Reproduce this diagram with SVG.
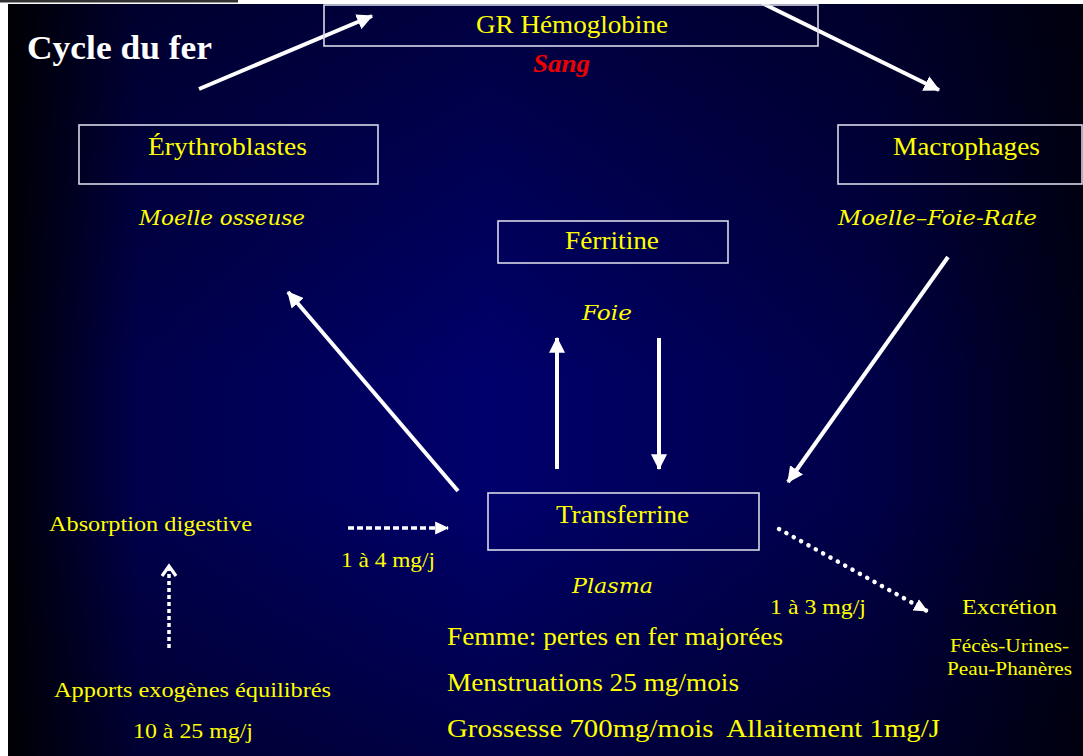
<svg xmlns="http://www.w3.org/2000/svg" width="1083" height="756" viewBox="0 0 1083 756">
<style>
.t{font-family:"Liberation Serif","Times New Roman",serif;fill:#ffff00;font-size:24.5px}
.s{font-size:22px}
.xs{font-size:19.5px}
.b{font-size:25px}
.i{font-family:"DejaVu Serif","Liberation Serif",serif;font-style:italic;fill:#ffff00;font-size:21px}
.box{fill:none;stroke:#d8d8e8;stroke-width:1.6}
.ar{stroke:#ffffff;stroke-width:4;fill:none}
.dot{stroke:#ffffff;fill:none}
</style>
<defs>
<linearGradient id="gh" x1="0" y1="0" x2="1" y2="0">
<stop offset="0" stop-color="#000006"/>
<stop offset="0.12" stop-color="#00004c"/>
<stop offset="0.45" stop-color="#00006c"/>
<stop offset="0.8" stop-color="#000048"/>
<stop offset="1" stop-color="#000016"/>
</linearGradient>
<linearGradient id="gv" x1="0" y1="0" x2="0" y2="1">
<stop offset="0" stop-color="#000000" stop-opacity="0.4"/>
<stop offset="0.5" stop-color="#000000" stop-opacity="0"/>
<stop offset="0.65" stop-color="#000000" stop-opacity="0"/>
<stop offset="1" stop-color="#000000" stop-opacity="0.35"/>
</linearGradient>
<marker id="ah" markerUnits="userSpaceOnUse" markerWidth="16" markerHeight="16" viewBox="0 0 14 14" refX="13" refY="7" orient="auto">
<path d="M0,0 L14,7 L0,14 z" fill="#ffffff"/>
</marker>
<marker id="ahs" markerUnits="userSpaceOnUse" markerWidth="14" markerHeight="14" viewBox="0 0 12 12" refX="11" refY="6" orient="auto">
<path d="M0,0.5 L12,6 L0,11.5 z" fill="#ffffff"/>
</marker>
<marker id="aho" markerUnits="userSpaceOnUse" markerWidth="16" markerHeight="18" viewBox="0 0 14 18" refX="12" refY="9" orient="auto">
<path d="M2,2 L12,9 L2,16" fill="none" stroke="#ffffff" stroke-width="3.2"/>
</marker>
</defs>
<rect x="0" y="0" width="1083" height="756" fill="#ffffff"/>
<rect x="8" y="4" width="1075" height="752" fill="url(#gh)"/>
<rect x="8" y="4" width="1075" height="752" fill="url(#gv)"/>
<rect x="0" y="0" width="238" height="2.5" fill="#333333"/>

<g id="title">
<circle cx="13.5" cy="50" r="2.6" fill="#000000"/>
<text x="27" y="59" font-family="Liberation Serif,serif" font-weight="bold" font-size="34" fill="#ffffff" textLength="185" lengthAdjust="spacingAndGlyphs">Cycle du fer</text>
</g>

<g id="connectors">
<line class="ar" x1="199" y1="89" x2="372" y2="16" marker-end="url(#ah)"/>
<line class="ar" x1="762" y1="3" x2="939" y2="90" marker-end="url(#ah)"/>
<line class="ar" x1="458" y1="491" x2="288" y2="292" marker-end="url(#ah)"/>
<line class="ar" x1="557" y1="469" x2="557" y2="338" marker-end="url(#ah)"/>
<line class="ar" x1="659" y1="338" x2="659" y2="469" marker-end="url(#ah)"/>
<line class="ar" x1="948" y1="257" x2="788" y2="482" marker-end="url(#ah)"/>
<line class="dot" x1="348" y1="528" x2="448" y2="528" stroke-width="3.5" stroke-dasharray="6 3" marker-end="url(#ahs)"/>
<line class="dot" x1="169" y1="648" x2="169" y2="566" stroke-width="3.5" stroke-dasharray="4 3" marker-end="url(#aho)"/>
<line class="dot" x1="779" y1="529" x2="927" y2="611" stroke-width="4.5" stroke-linecap="round" stroke-dasharray="0.1 8.3" marker-end="url(#ahs)"/>
</g>

<g id="gr">
<rect class="box" x="324" y="5" width="494" height="41"/>
<text class="t" x="476" y="33" textLength="192" lengthAdjust="spacingAndGlyphs">GR Hémoglobine</text>
<text x="533" y="72" font-family="Liberation Serif,serif" font-style="italic" font-weight="bold" font-size="25" fill="#ee0000" textLength="57" lengthAdjust="spacingAndGlyphs">Sang</text>
</g>

<g id="erythroblastes">
<rect class="box" x="79" y="125" width="299" height="59"/>
<text class="t" x="148" y="155" textLength="159" lengthAdjust="spacingAndGlyphs">Érythroblastes</text>
<text class="i" x="139" y="225" textLength="166" lengthAdjust="spacingAndGlyphs">Moelle osseuse</text>
</g>

<g id="macrophages">
<rect class="box" x="838" y="125" width="244" height="59"/>
<text class="t" x="893" y="155" textLength="147" lengthAdjust="spacingAndGlyphs">Macrophages</text>
<text class="i" x="838" y="225" textLength="199" lengthAdjust="spacingAndGlyphs">Moelle–Foie-Rate</text>
</g>

<g id="ferritine">
<rect class="box" x="498" y="221" width="230" height="42"/>
<text class="t" x="565" y="249" textLength="94" lengthAdjust="spacingAndGlyphs">Férritine</text>
<text class="i" x="582" y="320" textLength="50" lengthAdjust="spacingAndGlyphs">Foie</text>
</g>

<g id="transferrine">
<rect class="box" x="488" y="493" width="271" height="57"/>
<text class="t" x="556" y="523" textLength="133" lengthAdjust="spacingAndGlyphs">Transferrine</text>
<text class="i" x="572" y="593" textLength="81" lengthAdjust="spacingAndGlyphs">Plasma</text>
</g>

<g id="absorption">
<text class="t s" x="49" y="531" textLength="203" lengthAdjust="spacingAndGlyphs">Absorption digestive</text>
<text class="t s" x="341" y="567" textLength="94" lengthAdjust="spacingAndGlyphs">1 à 4 mg/j</text>
</g>

<g id="apports">
<text class="t s" x="54" y="697" textLength="277" lengthAdjust="spacingAndGlyphs">Apports exogènes équilibrés</text>
<text class="t s" x="133" y="738" textLength="120" lengthAdjust="spacingAndGlyphs">10 à 25 mg/j</text>
</g>

<g id="excretion">
<text class="t s" x="770" y="614" textLength="96" lengthAdjust="spacingAndGlyphs">1 à 3 mg/j</text>
<text class="t s" x="962" y="614" textLength="95" lengthAdjust="spacingAndGlyphs">Excrétion</text>
<text class="t xs" x="950" y="652" textLength="119" lengthAdjust="spacingAndGlyphs">Fécès-Urines-</text>
<text class="t xs" x="947" y="675" textLength="125" lengthAdjust="spacingAndGlyphs">Peau-Phanères</text>
</g>

<g id="notes">
<text class="t b" x="447" y="645" textLength="336" lengthAdjust="spacingAndGlyphs">Femme: pertes en fer majorées</text>
<text class="t b" x="447" y="691" textLength="292" lengthAdjust="spacingAndGlyphs">Menstruations 25 mg/mois</text>
<text class="t b" x="447" y="737" textLength="493" lengthAdjust="spacingAndGlyphs" style="white-space:pre">Grossesse 700mg/mois  Allaitement 1mg/J</text>
</g>
</svg>
